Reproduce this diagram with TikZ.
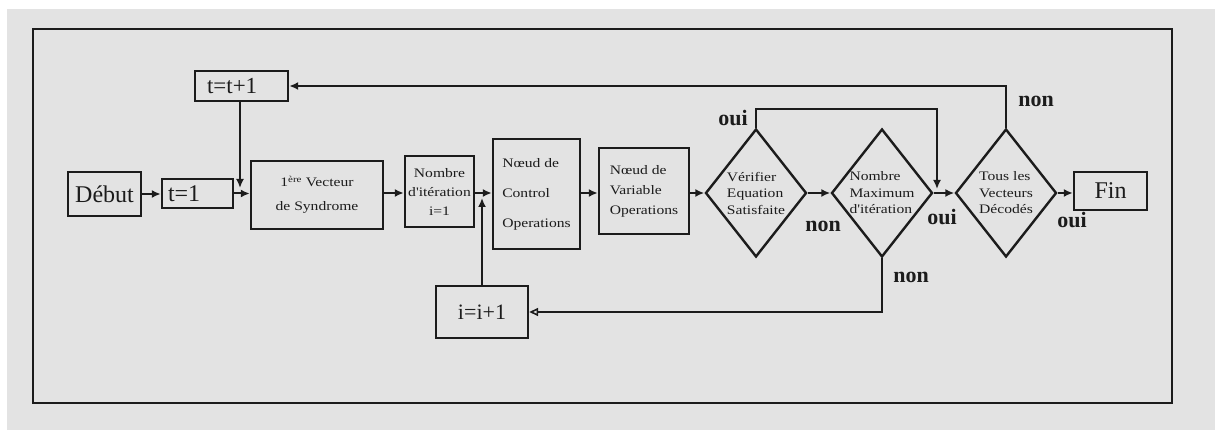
\documentclass[tikz,border=0pt]{standalone}
\usepackage{fontspec}
\setmainfont{Liberation Serif}
\newfontfamily\smallserif[FakeStretch=1.2]{Liberation Serif}
\usetikzlibrary{arrows.meta,shapes.geometric}
\definecolor{paper}{HTML}{E3E3E3}
\definecolor{ink}{HTML}{1C1C1C}
\tikzset{
  box/.style={draw=ink, line width=2.4pt, rectangle, inner sep=0pt, text=ink},
  decision/.style={draw=ink, line width=2.4pt, diamond, aspect=0.79, inner sep=0pt,
    minimum width=101pt, minimum height=128pt, align=left, text=ink,
    font=\smallserif\fontsize{13}{16.5}\selectfont},
  flow/.style={draw=ink, line width=2pt, -{Latex[length=9pt,width=8pt]}},
  bigtxt/.style={font=\fontsize{24}{28}\selectfont},
  smalltxt/.style={font=\smallserif\fontsize{13}{#1}\selectfont},
  tag/.style={font=\bfseries\fontsize{22}{26}\selectfont, text=ink},
}
\begin{document}
\begin{tikzpicture}[x=1pt,y=-1pt]
\useasboundingbox (0,0) rectangle (1215,430);
\fill[white] (0,0) rectangle (1215,430);
\fill[paper] (7,9) rectangle (1215,430);
\draw[ink, line width=2.6pt] (33,29) rectangle (1172,403);

% main axis of the flow
\coordinate (axis) at (0,193);

% boxes
\node[box, bigtxt, minimum width=73pt, minimum height=44pt] (debut) at (104.5,194) {Début};
\node[box, bigtxt, minimum height=29pt, text width=59pt, inner xsep=6pt, align=left] (tone) at (197.5,193.5) {t=1};
\node[box, font=\fontsize{23}{27}\selectfont, minimum height=30pt, text width=69pt, inner xsep=12pt, align=left] (tinc) at (241.5,86) {t=t+1};
\node[box, smalltxt=24, minimum width=132pt, minimum height=68pt, align=center] (vect) at (317,195) {1\textsuperscript{ère} Vecteur\\de Syndrome};
\node[box, smalltxt=19, minimum width=69pt, minimum height=71pt, align=center] (nbit) at (439.5,191.5) {Nombre\\d'itération\\i=1};
\node[box, smalltxt=30, minimum width=87pt, minimum height=110pt, align=left] (ctrl) at (536.5,194) {Nœud de\\Control\\Operations};
\node[box, smalltxt=20, minimum width=90pt, minimum height=86pt, align=left] (var) at (644,191) {Nœud de\\Variable\\Operations};
\node[decision] (d1) at (756,193) {Vérifier\\Equation\\Satisfaite};
\node[decision] (d2) at (882,193) {Nombre\\Maximum\\d'itération};
\node[decision] (d3) at (1006,193) {Tous les\\Vecteurs\\Décodés};
\node[box, bigtxt, minimum width=73pt, minimum height=38pt] (fin) at (1110.5,191) {Fin};
\node[box, font=\fontsize{22}{26}\selectfont, minimum width=92pt, minimum height=52pt] (iinc) at (482,312) {i=i+1};

% join points on the main line
\coordinate (tjoin) at (240,188);
\coordinate (ijoin) at (482,198);
\coordinate (ouijoin) at (937,189);

% forward flow
\draw[flow] (debut.east) -- (debut.east -| tone.west);
\draw[flow] (tone.east) -- (tone.east -| vect.west);
\draw[flow] (vect.east |- axis) -- (nbit.west |- axis);
\draw[flow] (nbit.east |- axis) -- (ctrl.west |- axis);
\draw[flow] (ctrl.east |- axis) -- (var.west |- axis);
\draw[flow] (var.east |- axis) -- (d1.west);
\draw[flow] (d1.east) -- (d2.west);
\draw[flow] (d2.east) -- (d3.west);
\draw[flow] (d3.east) -- (fin.west |- axis);

% loops
\draw[flow] (tinc.south -| tjoin) -- (tjoin);
\draw[flow] (iinc.north) -- (ijoin);
\draw[flow] (d1.north) -- ++(0,-19) -| (ouijoin);
\draw[flow] (d3.north) |- (tinc.east);
\draw[ink, line width=1.6pt, -{Triangle[open,length=9pt,width=8pt]}] (d2.south) |- (iinc.east);

% branch labels
\node[tag] (l1) at (733,118) {oui};
\node[tag] (l2) at (823,226) {non};
\node[tag] (l3) at (942,217) {oui};
\node[tag] (l4) at (1036,101) {non};
\node[tag] (l5) at (911,277) {non};
\node[tag] (l6) at (1072,220) {oui};
\end{tikzpicture}
\end{document}
